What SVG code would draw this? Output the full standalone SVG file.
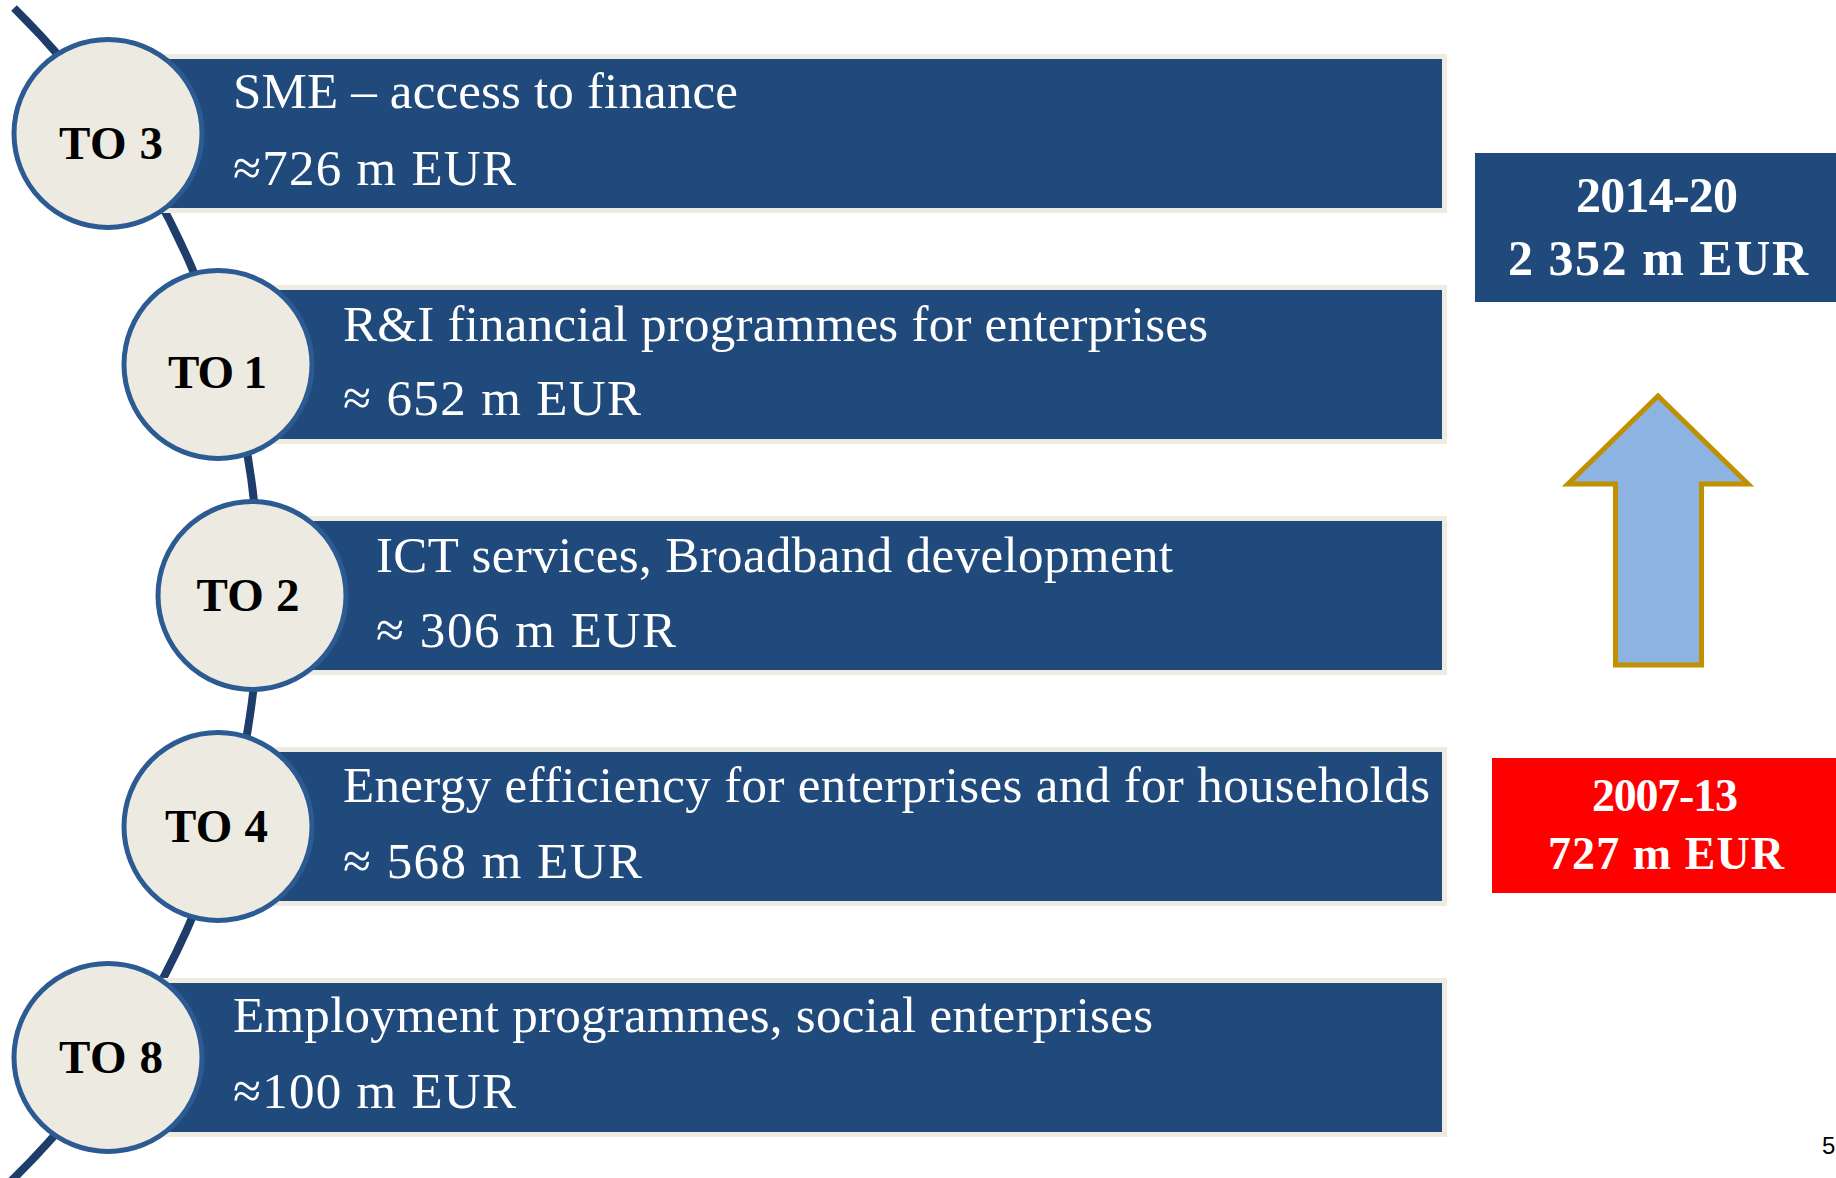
<svg xmlns="http://www.w3.org/2000/svg" width="1836" height="1178" viewBox="0 0 1836 1178">
  <style>
    .bar { fill: #214A7C; stroke: #EEEBE1; stroke-width: 5; }
    .disc { fill: #EDEBE1; stroke: #2C5A93; stroke-width: 5; }
    .tag { font-family: "Liberation Serif", "Times New Roman", serif; font-weight: bold; font-size: 47px; fill: #000000; text-anchor: middle; }
    .label { font-family: "Liberation Serif", "Times New Roman", serif; font-size: 51px; fill: #FFFFFF; }
    .total { font-family: "Liberation Serif", "Times New Roman", serif; font-weight: bold; fill: #FFFFFF; text-anchor: middle; }
    .spine { fill: none; stroke: #1F3D6A; stroke-width: 8; }
  </style>

  <rect x="0" y="0" width="1836" height="1178" fill="#FFFFFF"/>

  <!-- curved spine linking the objective discs -->
  <g id="connectors">
    <path class="spine" d="M 14 8 A 821 821 0 0 1 7 1185"/>
  </g>

  <g id="to3">
    <rect class="bar" x="108" y="56.5" width="1336.5" height="154"/>
    <circle class="disc" cx="108" cy="133.5" r="94"/>
    <text class="tag" x="111" y="159" textLength="104">TO 3</text>
    <text class="label" x="233" y="108" textLength="505">SME – access to finance</text>
    <text class="label" x="233" y="185" textLength="283">≈726 m EUR</text>
  </g>

  <g id="to1">
    <rect class="bar" x="218" y="287.5" width="1226.5" height="154"/>
    <circle class="disc" cx="218" cy="364.5" r="94"/>
    <text class="tag" x="217.5" y="388" textLength="99">TO 1</text>
    <text class="label" x="343" y="341" textLength="865">R&amp;I financial programmes for enterprises</text>
    <text class="label" x="343" y="415" textLength="298">≈ 652 m EUR</text>
  </g>

  <g id="to2">
    <rect class="bar" x="252" y="518.5" width="1192.5" height="154"/>
    <circle class="disc" cx="252" cy="595.5" r="94"/>
    <text class="tag" x="248" y="611" textLength="103">TO 2</text>
    <text class="label" x="376" y="572" textLength="797">ICT services, Broadband development</text>
    <text class="label" x="376" y="647" textLength="300">≈ 306 m EUR</text>
  </g>

  <g id="to4">
    <rect class="bar" x="218" y="749.5" width="1226.5" height="154"/>
    <circle class="disc" cx="218" cy="826.5" r="94"/>
    <text class="tag" x="216.5" y="842" textLength="103">TO 4</text>
    <text class="label" x="343" y="802" textLength="1087">Energy efficiency for enterprises and for households</text>
    <text class="label" x="343" y="878" textLength="299">≈ 568 m EUR</text>
  </g>

  <g id="to8">
    <rect class="bar" x="108" y="980.5" width="1336.5" height="154"/>
    <circle class="disc" cx="108" cy="1057.5" r="94"/>
    <text class="tag" x="111" y="1073" textLength="104">TO 8</text>
    <text class="label" x="233" y="1032" textLength="920">Employment programmes, social enterprises</text>
    <text class="label" x="233" y="1108" textLength="283">≈100 m EUR</text>
  </g>

  <g id="total-2014-20">
    <rect x="1475" y="153" width="361" height="149" fill="#214A7C"/>
    <text class="total" x="1657" y="212" font-size="50" textLength="162">2014-20</text>
    <text class="total" x="1658" y="275" font-size="50" textLength="300">2 352 m EUR</text>
  </g>

  <g id="growth-arrow">
    <polygon points="1658,396 1748,484 1701.5,484 1701.5,665 1615.5,665 1615.5,484 1568,484"
             fill="#8DB3E2" stroke="#BF9000" stroke-width="5" stroke-linejoin="miter"/>
  </g>

  <g id="total-2007-13">
    <rect x="1492" y="758" width="344" height="135" fill="#FF0000"/>
    <text class="total" x="1665" y="811" font-size="46" textLength="146">2007-13</text>
    <text class="total" x="1666" y="869" font-size="46" textLength="236">727 m EUR</text>
  </g>

  <text x="1822" y="1154" font-family="'Liberation Sans', Arial, sans-serif" font-size="24" fill="#000000">5</text>
</svg>
